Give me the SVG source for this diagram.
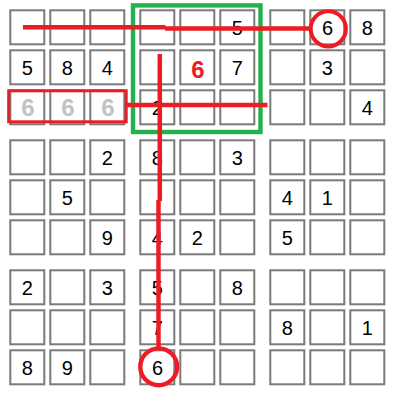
<svg xmlns="http://www.w3.org/2000/svg" width="400" height="400" viewBox="0 0 400 400">
<style>
.c{fill:#fff;stroke:#7a7a7a;stroke-width:2}
.d{font-family:"Liberation Sans",Arial,sans-serif;font-size:20px;fill:#000;text-anchor:middle}
.g{font-family:"Liberation Sans",Arial,sans-serif;font-size:24px;font-weight:bold;fill:#c3c3c3;text-anchor:middle}
.r{font-family:"Liberation Sans",Arial,sans-serif;font-size:24px;font-weight:bold;fill:#ed1c24;text-anchor:middle}
.rl{stroke:#ed1c24;stroke-width:4.5;fill:none}
</style>
<defs><rect id="cell" class="c" width="34" height="34"/></defs>
<g id="grid">
<g id="r1">
<g id="c11"><use href="#cell" x="10.3" y="10.3"/></g>
<g id="c12"><use href="#cell" x="50.3" y="10.3"/></g>
<g id="c13"><use href="#cell" x="90.3" y="10.3"/></g>
<g id="c14"><use href="#cell" x="140.3" y="10.3"/></g>
<g id="c15"><use href="#cell" x="180.3" y="10.3"/></g>
<g id="c16"><use href="#cell" x="220.3" y="10.3"/><text class="d" x="237.3" y="35">5</text></g>
<g id="c17"><use href="#cell" x="270.3" y="10.3"/></g>
<g id="c18"><use href="#cell" x="310.3" y="10.3"/><text class="d" x="327.5" y="35">6</text></g>
<g id="c19"><use href="#cell" x="350.3" y="10.3"/><text class="d" x="367.3" y="35">8</text></g>
</g>
<g id="r2">
<g id="c21"><use href="#cell" x="10.3" y="50.3"/><text class="d" x="27.3" y="75">5</text></g>
<g id="c22"><use href="#cell" x="50.3" y="50.3"/><text class="d" x="67.3" y="75">8</text></g>
<g id="c23"><use href="#cell" x="90.3" y="50.3"/><text class="d" x="107.3" y="75">4</text></g>
<g id="c24"><use href="#cell" x="140.3" y="50.3"/></g>
<g id="c25"><use href="#cell" x="180.3" y="50.3"/><text class="r" x="198" y="77.7">6</text></g>
<g id="c26"><use href="#cell" x="220.3" y="50.3"/><text class="d" x="237.3" y="75">7</text></g>
<g id="c27"><use href="#cell" x="270.3" y="50.3"/></g>
<g id="c28"><use href="#cell" x="310.3" y="50.3"/><text class="d" x="327.3" y="75">3</text></g>
<g id="c29"><use href="#cell" x="350.3" y="50.3"/></g>
</g>
<g id="r3">
<g id="c31"><use href="#cell" x="10.3" y="90.3"/><text class="g" x="28" y="115.5">6</text></g>
<g id="c32"><use href="#cell" x="50.3" y="90.3"/><text class="g" x="68" y="115.5">6</text></g>
<g id="c33"><use href="#cell" x="90.3" y="90.3"/><text class="g" x="108" y="115.5">6</text></g>
<g id="c34"><use href="#cell" x="140.3" y="90.3"/><text class="d" x="157.3" y="115">2</text></g>
<g id="c35"><use href="#cell" x="180.3" y="90.3"/></g>
<g id="c36"><use href="#cell" x="220.3" y="90.3"/></g>
<g id="c37"><use href="#cell" x="270.3" y="90.3"/></g>
<g id="c38"><use href="#cell" x="310.3" y="90.3"/></g>
<g id="c39"><use href="#cell" x="350.3" y="90.3"/><text class="d" x="367.3" y="115">4</text></g>
</g>
<g id="r4">
<g id="c41"><use href="#cell" x="10.3" y="140.3"/></g>
<g id="c42"><use href="#cell" x="50.3" y="140.3"/></g>
<g id="c43"><use href="#cell" x="90.3" y="140.3"/><text class="d" x="107.3" y="165">2</text></g>
<g id="c44"><use href="#cell" x="140.3" y="140.3"/><text class="d" x="157.3" y="165">8</text></g>
<g id="c45"><use href="#cell" x="180.3" y="140.3"/></g>
<g id="c46"><use href="#cell" x="220.3" y="140.3"/><text class="d" x="237.3" y="165">3</text></g>
<g id="c47"><use href="#cell" x="270.3" y="140.3"/></g>
<g id="c48"><use href="#cell" x="310.3" y="140.3"/></g>
<g id="c49"><use href="#cell" x="350.3" y="140.3"/></g>
</g>
<g id="r5">
<g id="c51"><use href="#cell" x="10.3" y="180.3"/></g>
<g id="c52"><use href="#cell" x="50.3" y="180.3"/><text class="d" x="67.3" y="205">5</text></g>
<g id="c53"><use href="#cell" x="90.3" y="180.3"/></g>
<g id="c54"><use href="#cell" x="140.3" y="180.3"/></g>
<g id="c55"><use href="#cell" x="180.3" y="180.3"/></g>
<g id="c56"><use href="#cell" x="220.3" y="180.3"/></g>
<g id="c57"><use href="#cell" x="270.3" y="180.3"/><text class="d" x="287.3" y="205">4</text></g>
<g id="c58"><use href="#cell" x="310.3" y="180.3"/><text class="d" x="327.3" y="205">1</text></g>
<g id="c59"><use href="#cell" x="350.3" y="180.3"/></g>
</g>
<g id="r6">
<g id="c61"><use href="#cell" x="10.3" y="220.3"/></g>
<g id="c62"><use href="#cell" x="50.3" y="220.3"/></g>
<g id="c63"><use href="#cell" x="90.3" y="220.3"/><text class="d" x="107.3" y="245">9</text></g>
<g id="c64"><use href="#cell" x="140.3" y="220.3"/><text class="d" x="157.3" y="245">4</text></g>
<g id="c65"><use href="#cell" x="180.3" y="220.3"/><text class="d" x="197.3" y="245">2</text></g>
<g id="c66"><use href="#cell" x="220.3" y="220.3"/></g>
<g id="c67"><use href="#cell" x="270.3" y="220.3"/><text class="d" x="287.3" y="245">5</text></g>
<g id="c68"><use href="#cell" x="310.3" y="220.3"/></g>
<g id="c69"><use href="#cell" x="350.3" y="220.3"/></g>
</g>
<g id="r7">
<g id="c71"><use href="#cell" x="10.3" y="270.3"/><text class="d" x="27.3" y="295">2</text></g>
<g id="c72"><use href="#cell" x="50.3" y="270.3"/></g>
<g id="c73"><use href="#cell" x="90.3" y="270.3"/><text class="d" x="107.3" y="295">3</text></g>
<g id="c74"><use href="#cell" x="140.3" y="270.3"/><text class="d" x="157.3" y="295">5</text></g>
<g id="c75"><use href="#cell" x="180.3" y="270.3"/></g>
<g id="c76"><use href="#cell" x="220.3" y="270.3"/><text class="d" x="237.3" y="295">8</text></g>
<g id="c77"><use href="#cell" x="270.3" y="270.3"/></g>
<g id="c78"><use href="#cell" x="310.3" y="270.3"/></g>
<g id="c79"><use href="#cell" x="350.3" y="270.3"/></g>
</g>
<g id="r8">
<g id="c81"><use href="#cell" x="10.3" y="310.3"/></g>
<g id="c82"><use href="#cell" x="50.3" y="310.3"/></g>
<g id="c83"><use href="#cell" x="90.3" y="310.3"/></g>
<g id="c84"><use href="#cell" x="140.3" y="310.3"/><text class="d" x="157.3" y="335">7</text></g>
<g id="c85"><use href="#cell" x="180.3" y="310.3"/></g>
<g id="c86"><use href="#cell" x="220.3" y="310.3"/></g>
<g id="c87"><use href="#cell" x="270.3" y="310.3"/><text class="d" x="287.3" y="335">8</text></g>
<g id="c88"><use href="#cell" x="310.3" y="310.3"/></g>
<g id="c89"><use href="#cell" x="350.3" y="310.3"/><text class="d" x="367.3" y="335">1</text></g>
</g>
<g id="r9">
<g id="c91"><use href="#cell" x="10.3" y="350.3"/><text class="d" x="27.3" y="375">8</text></g>
<g id="c92"><use href="#cell" x="50.3" y="350.3"/><text class="d" x="67.3" y="375">9</text></g>
<g id="c93"><use href="#cell" x="90.3" y="350.3"/></g>
<g id="c94"><use href="#cell" x="140.3" y="350.3"/><text class="d" x="157.5" y="375">6</text></g>
<g id="c95"><use href="#cell" x="180.3" y="350.3"/></g>
<g id="c96"><use href="#cell" x="220.3" y="350.3"/></g>
<g id="c97"><use href="#cell" x="270.3" y="350.3"/></g>
<g id="c98"><use href="#cell" x="310.3" y="350.3"/></g>
<g id="c99"><use href="#cell" x="350.3" y="350.3"/></g>
</g>
</g>
<g id="box">
<rect x="133" y="5.4" width="127.5" height="126.6" fill="none" stroke="#22b14c" stroke-width="4.4"/>
</g>
<g id="connectors">
<rect x="8.7" y="90.8" width="117.5" height="31" fill="none" stroke="#ed1c24" stroke-width="3"/>
<line class="rl" x1="23" y1="27.2" x2="165.5" y2="27.2"/>
<line class="rl" x1="165" y1="28.4" x2="310" y2="28.4"/>
<line class="rl" x1="126" y1="105" x2="267.5" y2="105"/>
<line class="rl" x1="159.8" y1="54" x2="159.8" y2="201"/>
<line class="rl" x1="158.5" y1="200" x2="158.5" y2="347"/>
<circle cx="328.3" cy="28.8" r="17.6" fill="none" stroke="#ed1c24" stroke-width="4"/>
<circle cx="158.7" cy="366.8" r="18.4" fill="none" stroke="#ed1c24" stroke-width="4.4"/>
</g>
</svg>
